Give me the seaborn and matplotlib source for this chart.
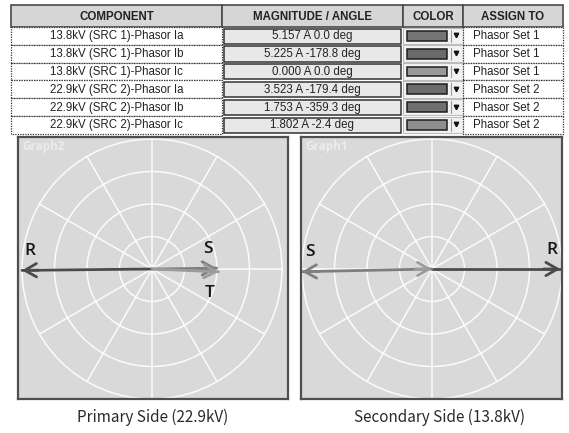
import numpy as np
import pandas as pd
import matplotlib
matplotlib.use("Agg")
import matplotlib.pyplot as plt
from matplotlib.patches import Rectangle, Circle
import seaborn as sns

# ---------------- data ----------------
components = ["13.8kV (SRC 1)-Phasor Ia", "13.8kV (SRC 1)-Phasor Ib", "13.8kV (SRC 1)-Phasor Ic",
              "22.9kV (SRC 2)-Phasor Ia", "22.9kV (SRC 2)-Phasor Ib", "22.9kV (SRC 2)-Phasor Ic"]
magnitudes = [5.157, 5.225, 0.000, 3.523, 1.753, 1.802]
angles = [0.0, -178.8, 0.0, -179.4, -359.3, -2.4]
mag_text = ["5.157 A 0.0 deg", "5.225 A -178.8 deg", "0.000 A 0.0 deg",
            "3.523 A -179.4 deg", "1.753 A -359.3 deg", "1.802 A -2.4 deg"]
assign = ["Phasor Set 1", "Phasor Set 1", "Phasor Set 1",
          "Phasor Set 2", "Phasor Set 2", "Phasor Set 2"]
phase_labels = ["R", "S", "T", "R", "S", "T"]
headers = ["COMPONENT", "MAGNITUDE / ANGLE", "COLOR", "ASSIGN TO"]
swatch_colors = ["#747474", "#6a6a6a", "#9a9a9a", "#6c6c6c", "#707070", "#8e8e8e"]
phase_colors = {"R": "#4b4b4b", "S": "#7e7e7e", "T": "#9c9c9c"}
panel_titles = ["Graph2", "Graph1"]
panel_sets = ["Phasor Set 2", "Phasor Set 1"]
captions = ["Primary Side (22.9kV)", "Secondary Side (13.8kV)"]

# ---------------- figure ----------------
sns.set_style("white")
plt.rcParams["font.family"] = ["Liberation Sans", "DejaVu Sans"]
W, H = 569, 433
fig = plt.figure(figsize=(W / 100, H / 100), dpi=100)
fig.patch.set_facecolor("white")

bg = fig.add_axes([0, 0, 1, 1])
bg.set_xlim(0, W)
bg.set_ylim(H, 0)
bg.axis("off")

def frac(x0, y0, x1, y1):
    return [x0 / W, 1 - y1 / H, (x1 - x0) / W, (y1 - y0) / H]

# ---------------- table ----------------
col_x = [11, 222, 403, 463, 563]
head_top, head_bot = 5, 27
row_h = 17.8
txt_col = "#222222"

for i, h in enumerate(headers):
    bg.add_patch(Rectangle((col_x[i], head_top), col_x[i + 1] - col_x[i], head_bot - head_top,
                           facecolor="#d6d6d6", edgecolor="#4a4a4a", lw=1.2))
    bg.text((col_x[i] + col_x[i + 1]) / 2, (head_top + head_bot) / 2 + 0.5, h,
            ha="center", va="center", fontsize=8.3, fontweight="bold", color=txt_col)

for r in range(len(components)):
    top = head_bot + r * row_h
    bot = top + row_h
    cy = (top + bot) / 2
    # component cell (dotted)
    bg.add_patch(Rectangle((col_x[0], top), col_x[1] - col_x[0], row_h,
                           facecolor="white", edgecolor="#333333", lw=0.9, ls=(0, (1, 1))))
    bg.text((col_x[0] + col_x[1]) / 2, cy + 0.5, components[r], ha="center", va="center",
            fontsize=8.3, color=txt_col)
    # magnitude cell
    bg.add_patch(Rectangle((col_x[1] + 2, top + 1.5), col_x[2] - col_x[1] - 4, row_h - 2.5,
                           facecolor="#e8e8e8", edgecolor="#333333", lw=1.1))
    bg.text((col_x[1] + col_x[2]) / 2, cy + 0.5, mag_text[r], ha="center", va="center",
            fontsize=8.3, color=txt_col)
    # color cell
    bg.add_patch(Rectangle((col_x[2], top + 0.5), col_x[3] - col_x[2], row_h - 1,
                           facecolor="#f2f2f2", edgecolor="#bdbdbd", lw=0.8))
    bg.add_patch(Rectangle((col_x[2] + 4, top + 4), 40, row_h - 8,
                           facecolor=swatch_colors[r], edgecolor="#1e1e1e", lw=1.1))
    bg.plot([col_x[2] + 48, col_x[2] + 48], [top + 3, bot - 3], color="#9a9a9a", lw=0.8)
    bg.plot([col_x[2] + 53], [cy - 0.5], marker="v", ms=3.2, color="#111111", ls="none")
    # assign cell (dotted)
    bg.add_patch(Rectangle((col_x[3], top), col_x[4] - col_x[3], row_h,
                           facecolor="white", edgecolor="#333333", lw=0.9, ls=(0, (1, 1))))
    bg.text(col_x[3] + 10, cy + 0.5, assign[r], ha="left", va="center",
            fontsize=8.3, color=txt_col)

# ---------------- phasor panels ----------------
panel_boxes = [(18, 137, 288, 399), (301, 137, 562, 399)]
centers = [(152, 269), (432, 269)]
R_PX = 130.0

df = pd.DataFrame({"component": components, "mag": magnitudes, "ang": angles,
                   "set": assign, "phase": phase_labels})

for p in range(2):
    x0, y0, x1, y1 = panel_boxes[p]
    cx, cy = centers[p]
    ax = fig.add_axes(frac(x0, y0, x1, y1))
    sub = df[df["set"] == panel_sets[p]].reset_index(drop=True)
    rmax = sub["mag"].max()
    s = R_PX / rmax  # pixels per unit
    ax.set_xlim((x0 - cx) / s, (x1 - cx) / s)
    ax.set_ylim(-(y1 - cy) / s, (cy - y0) / s)
    ax.set_facecolor("#d9d9d9")
    ax.set_xticks([])
    ax.set_yticks([])
    for sp in ax.spines.values():
        sp.set_color("#4f4f4f")
        sp.set_linewidth(1.6)

    # polar grid
    for k in range(1, 5):
        ax.add_patch(Circle((0, 0), rmax * k / 4, fill=False, ec="white", lw=1.1, alpha=0.9))
    for a in range(0, 360, 30):
        t = np.deg2rad(a)
        ax.plot([0, rmax * np.cos(t)], [0, rmax * np.sin(t)], color="white", lw=1.1, alpha=0.9)

    ax.text(0.015, 0.988, panel_titles[p], transform=ax.transAxes, ha="left", va="top",
            fontsize=8.5, fontweight="bold", color="#ececec", family=["Open Sans", "DejaVu Sans"])

    # phasor shafts
    rows = []
    for _, row in sub.iterrows():
        t = np.deg2rad(row["ang"])
        rows.append({"x": 0.0, "y": 0.0, "phase": row["phase"], "o": 0})
        rows.append({"x": row["mag"] * np.cos(t), "y": row["mag"] * np.sin(t),
                     "phase": row["phase"], "o": 1})
    lines = pd.DataFrame(rows)
    sns.lineplot(data=lines, x="x", y="y", hue="phase", palette=phase_colors,
                 hue_order=["R", "S", "T"], sort=False, estimator=None, lw=2.0,
                 legend=False, ax=ax)
    ax.set_xlabel("")
    ax.set_ylabel("")

    # heads and labels
    for _, row in sub.iterrows():
        t = np.deg2rad(row["ang"])
        col = phase_colors[row["phase"]]
        tip = (row["mag"] * np.cos(t), row["mag"] * np.sin(t))
        ax.annotate("", xy=tip, xytext=(-12 * np.cos(t), -12 * np.sin(t)),
                    textcoords="offset points",
                    arrowprops=dict(arrowstyle="->,head_length=0.7,head_width=0.4",
                                    color=col, lw=2.0, mutation_scale=12,
                                    shrinkA=0, shrinkB=0))
        if row["mag"] > 0:
            dy = -15 if row["phase"] == "T" else 14
            dx = -6 * np.sign(np.cos(t))
            ax.annotate(row["phase"], xy=tip, xytext=(dx, dy), textcoords="offset points",
                        ha="center", va="center", fontsize=12.5, fontweight="semibold",
                        color="#151515", family=["Open Sans", "DejaVu Sans"])

    bg.text((x0 + x1) / 2 + (0 if p == 0 else 8), 417, captions[p], ha="center", va="center",
            fontsize=11, color="#2a2a2a", family=["Noto Sans CJK KR", "DejaVu Sans"])

fig.savefig("out.png", dpi=100)
